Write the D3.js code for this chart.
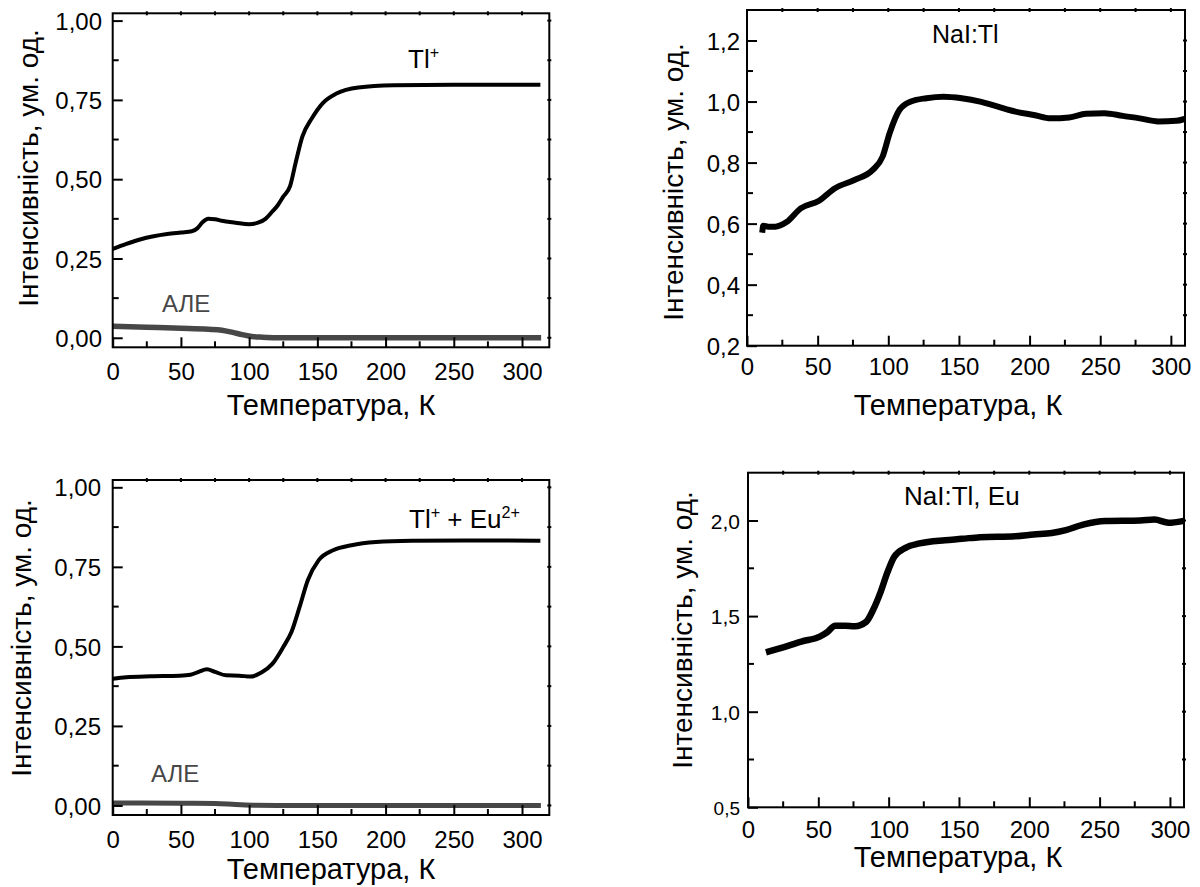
<!DOCTYPE html>
<html>
<head>
<meta charset="utf-8">
<script src="https://cdn.jsdelivr.net/npm/d3@7"></script>
<style>
  body { margin: 0; background: #fff; }
  svg { display: block; }
  text { font-family: "Liberation Sans", Arial, sans-serif; fill: #000; }
</style>
</head>
<body>
<svg id="chart" width="1200" height="887"></svg>
<script>
// values
const tlT = [0, 10, 20, 30, 40, 50, 58, 62, 66, 70, 75, 80, 90, 100, 106, 112, 117, 121, 125, 130, 134, 139, 146, 154, 164, 180, 206, 250, 312];
const tlI = [0.280, 0.296, 0.310, 0.320, 0.327, 0.332, 0.336, 0.345, 0.365, 0.375, 0.374, 0.369, 0.363, 0.358, 0.362, 0.375, 0.398, 0.418, 0.445, 0.478, 0.550, 0.634, 0.692, 0.740, 0.770, 0.789, 0.796, 0.798, 0.798];

const ale1T = [0, 25, 50, 70, 80, 88, 95, 102, 110, 120, 140, 312];
const ale1I = [0.036, 0.033, 0.030, 0.027, 0.024, 0.017, 0.010, 0.004, 0.002, 0.0005, 0, 0];

const naiT = [11, 11.5, 15, 20, 28, 38, 51, 62, 76, 89, 96, 101, 108, 116, 127, 139, 152, 165, 177, 190, 203, 215, 228, 240, 253, 266, 278, 291, 304, 309];
const naiI = [0.580, 0.593, 0.590, 0.590, 0.605, 0.650, 0.675, 0.715, 0.743, 0.776, 0.820, 0.897, 0.973, 1.000, 1.011, 1.016, 1.011, 1.000, 0.984, 0.967, 0.956, 0.945, 0.948, 0.960, 0.962, 0.953, 0.945, 0.935, 0.937, 0.942];

const tlEuT = [0, 10, 28, 49, 57, 63, 69, 75, 83, 93, 101, 109, 117, 125, 131, 137, 143, 151, 162, 175, 193, 219, 258, 312];
const tlEuI = [0.398, 0.403, 0.406, 0.408, 0.411, 0.420, 0.428, 0.420, 0.409, 0.408, 0.405, 0.418, 0.445, 0.498, 0.545, 0.624, 0.708, 0.771, 0.803, 0.818, 0.828, 0.832, 0.833, 0.832];

const ale3T = [0, 50, 75, 90, 105, 120, 312];
const ale3I = [0.008, 0.007, 0.006, 0.003, 0.0005, 0, 0];

const naiEuT = [15, 25, 38, 51, 56, 62, 69, 76, 84, 89, 94, 99, 104, 112, 122, 140, 152, 165, 190, 203, 216, 226, 239, 254, 279, 289, 299, 309];
const naiEuI = [1.315, 1.337, 1.367, 1.393, 1.414, 1.450, 1.450, 1.447, 1.470, 1.533, 1.620, 1.726, 1.810, 1.857, 1.880, 1.897, 1.904, 1.913, 1.918, 1.927, 1.935, 1.950, 1.980, 1.997, 2.000, 2.005, 1.988, 1.997];

const xMajor = [0, 50, 100, 150, 200, 250, 300];
const xMinor = [25, 75, 125, 175, 225, 275];
const yMajorA = [0, 0.25, 0.5, 0.75, 1.0];
const yMinorA = [0.125, 0.375, 0.625, 0.875];
const yMajorB = [0.2, 0.4, 0.6, 0.8, 1.0, 1.2];
const yMinorB = [0.3, 0.5, 0.7, 0.9, 1.1];
const yMajorC = [0.5, 1.0, 1.5, 2.0];
const yMinorC = [0.75, 1.25, 1.75];

const xTitle = "Температура, К";
const yTitle = "Інтенсивність, ум. од.";

const loc = d3.formatLocale({ decimal: ",", thousands: " ", grouping: [3], currency: ["", ""] });

const panels = [
  { box: [112.7, 549.3, 13.3, 347.3], xDom: [0, 320], yDom: [-0.03, 1.023],
    yMajor: yMajorA, yMinor: yMinorA, fmt: loc.format(".2f"), ySize: () => 24, yLabX: 102,
    yTitleX: 38, yTitleY: 168, xLabY: 380, xTitleX: 331, xTitleY: 415,
    series: [{ t: ale1T, v: ale1I, color: "#474747", w: 5.5 }, { t: tlT, v: tlI, color: "#000", w: 4 }],
    notes: [{ x: 408, y: 68, parts: [["Tl"], ["+", 1]] }, { x: 162, y: 312, parts: [["АЛЕ"]], color: "#474747", size: 24 }] },
  { box: [747, 1185, 10, 345.7], xDom: [0, 310], yDom: [0.2, 1.3],
    yMajor: yMajorB, yMinor: yMinorB, fmt: loc.format(".1f"), ySize: () => 24, yLabX: 740,
    yTitleX: 683, yTitleY: 182, xLabY: 375, xTitleX: 958, xTitleY: 415,
    series: [{ t: naiT, v: naiI, color: "#000", w: 6 }],
    notes: [{ x: 932, y: 43, parts: [["NaI:Tl"]], size: 25 }] },
  { box: [112.7, 549.3, 480, 815], xDom: [0, 320], yDom: [-0.03, 1.023],
    yMajor: yMajorA, yMinor: yMinorA, fmt: loc.format(".2f"), ySize: () => 24, yLabX: 101,
    yTitleX: 31, yTitleY: 638, xLabY: 847.7, xTitleX: 331, xTitleY: 879,
    series: [{ t: ale3T, v: ale3I, color: "#474747", w: 5 }, { t: tlEuT, v: tlEuI, color: "#000", w: 4 }],
    notes: [{ x: 409, y: 528, parts: [["Tl"], ["+", 1], [" + Eu"], ["2+", 1]] }, { x: 151, y: 782, parts: [["АЛЕ"]], color: "#474747", size: 24 }] },
  { box: [748, 1184, 472.7, 807.3], xDom: [0, 310], yDom: [0.5, 2.25],
    yMajor: yMajorC, yMinor: yMinorC, fmt: loc.format(".1f"), ySize: d => d === 0.5 ? 19 : 21, yLabX: 740,
    yTitleX: 692, yTitleY: 630, xLabY: 838.3, xTitleX: 958, xTitleY: 867,
    series: [{ t: naiEuT, v: naiEuI, color: "#000", w: 6.5 }],
    notes: [{ x: 904, y: 505, parts: [["NaI:Tl, Eu"]], size: 26 }] }
];

const svg = d3.select("#chart");

panels.forEach(p => {
  const [x0, x1, y0, y1] = p.box;
  const x = d3.scaleLinear().domain(p.xDom).range([x0, x1]);
  const y = d3.scaleLinear().domain(p.yDom).range([y1, y0]);
  const g = svg.append("g");

  // curves
  const clip = "clip" + Math.round(x0) + Math.round(y0);
  svg.append("clipPath").attr("id", clip).append("rect")
    .attr("x", x0).attr("y", y0).attr("width", x1 - x0).attr("height", y1 - y0);
  const line = d3.line().x(d => x(d[0])).y(d => y(d[1])).curve(d3.curveMonotoneX);
  p.series.forEach(s => {
    g.append("path")
      .attr("clip-path", `url(#${clip})`)
      .attr("d", line(s.t.map((t, i) => [t, s.v[i]])))
      .attr("fill", "none").attr("stroke", s.color).attr("stroke-width", s.w)
      .attr("stroke-linejoin", "round").attr("stroke-linecap", "square");
  });

  // bottom axis: ticks inside
  const xb = g.append("g").attr("transform", `translate(0,${y1})`)
    .call(d3.axisBottom(x).tickValues(xMajor).tickSize(-10).tickFormat(d => d));
  xb.selectAll(".tick line").attr("stroke-width", 2);
  xb.selectAll(".tick text").attr("y", p.xLabY - y1).attr("dy", 0)
    .style("font-size", "24px").style("font-family", '"Liberation Sans", Arial, sans-serif');
  xb.append("g").selectAll("line").data(xMinor.filter(v => v < p.xDom[1])).join("line")
    .attr("x1", d => x(d)).attr("x2", d => x(d)).attr("y1", 0).attr("y2", -6)
    .attr("stroke", "#000").attr("stroke-width", 2);

  // left axis
  const yl = g.append("g").attr("transform", `translate(${x0},0)`)
    .call(d3.axisLeft(y).tickValues(p.yMajor).tickSize(-10).tickFormat(p.fmt));
  yl.selectAll(".tick line").attr("stroke-width", 2);
  yl.selectAll(".tick text").attr("x", p.yLabX - x0).attr("dy", "0.36em")
    .style("font-size", d => p.ySize(d) + "px").style("font-family", '"Liberation Sans", Arial, sans-serif');
  yl.append("g").selectAll("line").data(p.yMinor).join("line")
    .attr("y1", d => y(d)).attr("y2", d => y(d)).attr("x1", 0).attr("x2", 6)
    .attr("stroke", "#000").attr("stroke-width", 2);
  [xb, yl].forEach(a => a.select(".domain").remove());

  // small mirror ticks on top and right
  const allX = xMajor.concat(xMinor).filter(v => v > p.xDom[0] && v < p.xDom[1]);
  const allY = p.yMajor.concat(p.yMinor).filter(v => v > p.yDom[0] && v < p.yDom[1]);
  g.append("g").selectAll("line").data(allX).join("line")
    .attr("x1", d => x(d)).attr("x2", d => x(d)).attr("y1", y0 - 2).attr("y2", y0 + 2)
    .attr("stroke", "#000").attr("stroke-width", 2);
  g.append("g").selectAll("line").data(allY).join("line")
    .attr("y1", d => y(d)).attr("y2", d => y(d)).attr("x1", x1 - 2).attr("x2", x1 + 2)
    .attr("stroke", "#000").attr("stroke-width", 2);

  // frame
  g.append("rect").attr("x", x0).attr("y", y0).attr("width", x1 - x0).attr("height", y1 - y0)
    .attr("fill", "none").attr("stroke", "#000").attr("stroke-width", 2);

  // axis titles
  g.append("text").attr("x", p.xTitleX).attr("y", p.xTitleY).attr("text-anchor", "middle")
    .style("font-size", "29px").text(xTitle);
  g.append("text").attr("transform", `translate(${p.yTitleX},${p.yTitleY}) rotate(-90)`)
    .attr("text-anchor", "middle").style("font-size", "28px").text(yTitle);

  // annotations
  p.notes.forEach(n => {
    const size = n.size || 26;
    const t = g.append("text").attr("x", n.x).attr("y", n.y)
      .style("font-size", size + "px").style("fill", n.color || "#000");
    let raised = false;
    n.parts.forEach(([s, sup]) => {
      const span = t.append("tspan").text(s);
      if (sup && !raised) { span.attr("dy", -size * 0.38).style("font-size", (size * 0.62) + "px"); raised = true; }
      else if (!sup && raised) { span.attr("dy", size * 0.38); raised = false; }
      else if (sup) span.style("font-size", (size * 0.62) + "px");
    });
  });
});
</script>
</body>
</html>
